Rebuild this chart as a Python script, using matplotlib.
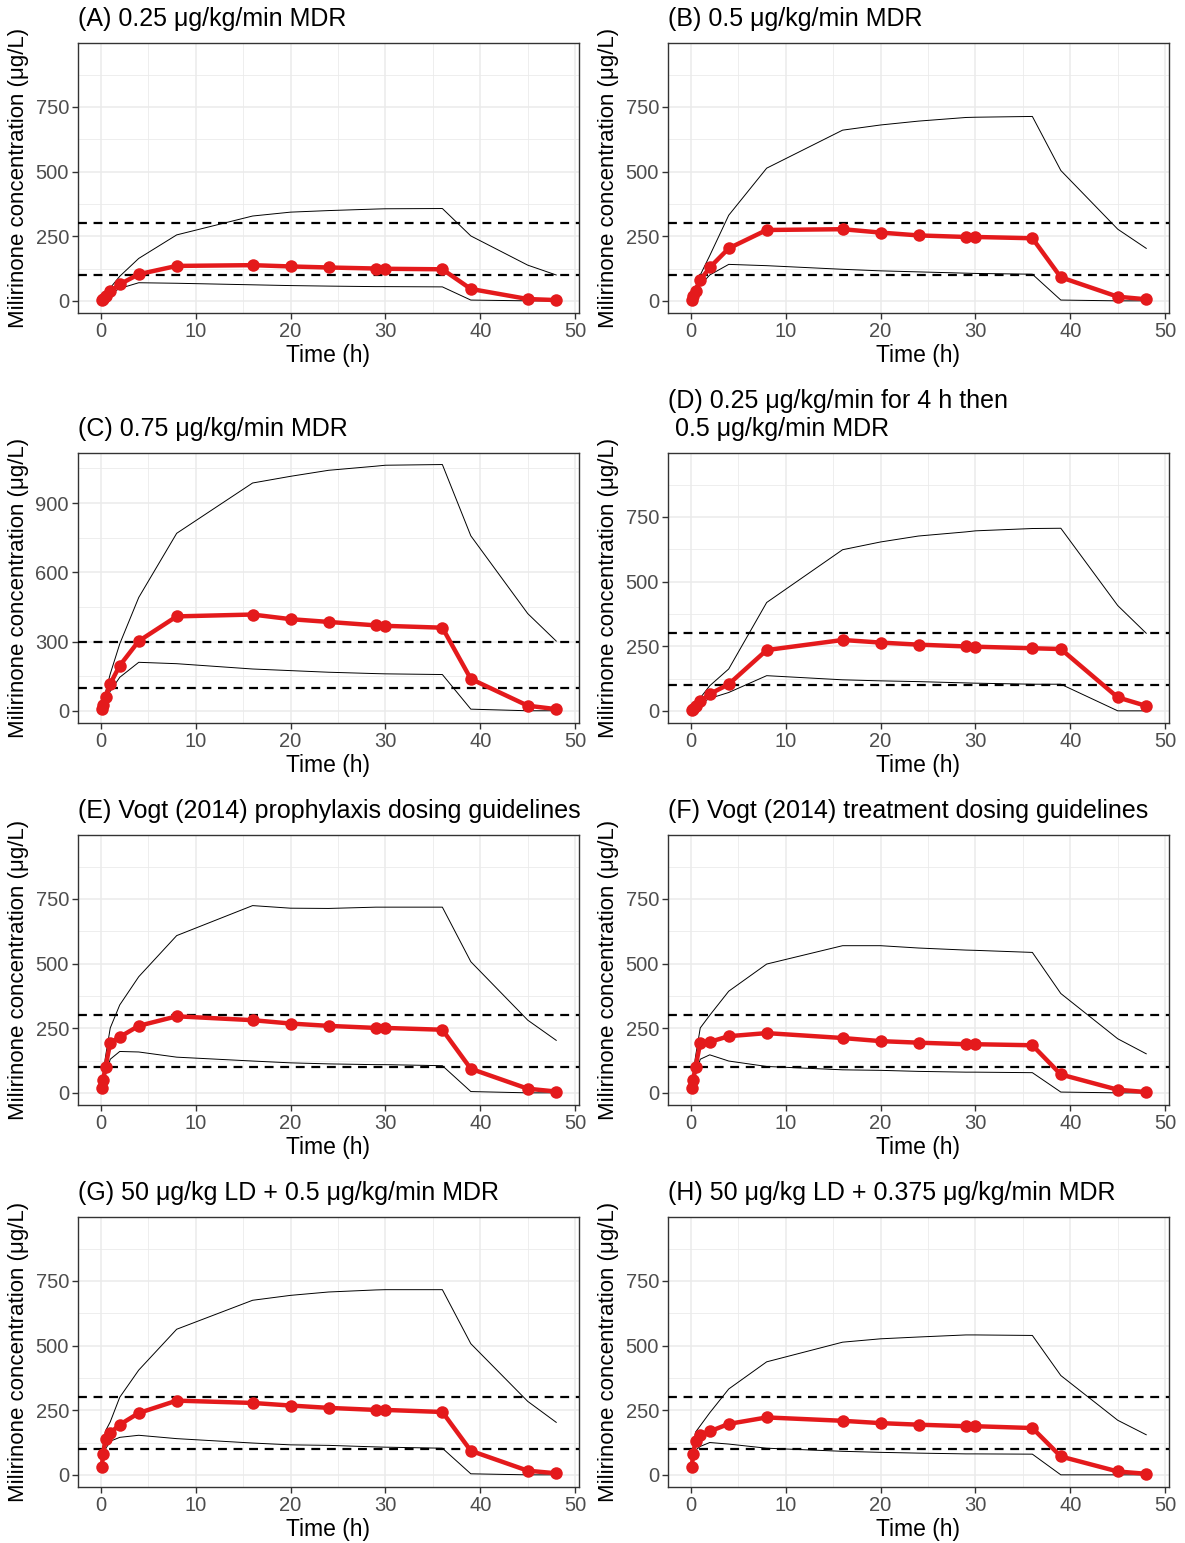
import matplotlib
matplotlib.use("Agg")
import matplotlib.pyplot as plt
from matplotlib.ticker import MultipleLocator, FixedLocator

plt.rcParams['font.family'] = ['Liberation Sans', 'DejaVu Sans']

# ---------------- data ----------------
time_h = [0.1, 0.25, 0.5, 1, 2, 4, 8, 16, 20, 24, 29, 30, 36, 39, 45, 48]

titles = [
    "(A) 0.25 \u03bcg/kg/min MDR",
    "(B) 0.5 \u03bcg/kg/min MDR",
    "(C) 0.75 \u03bcg/kg/min MDR",
    "(D) 0.25 \u03bcg/kg/min for 4 h then\n 0.5 \u03bcg/kg/min MDR",
    "(E) Vogt (2014) prophylaxis dosing guidelines",
    "(F) Vogt (2014) treatment dosing guidelines",
    "(G) 50 \u03bcg/kg LD + 0.5 \u03bcg/kg/min MDR",
    "(H) 50 \u03bcg/kg LD + 0.375 \u03bcg/kg/min MDR",
]

median_A = [2, 8, 20, 37, 64, 103, 135, 138, 133, 129, 125, 124, 122, 46, 7, 3]
lower_A = [1, 4, 12, 27, 48, 70, 68, 62, 59, 57, 55, 55, 54, 3, 0, 0]
upper_A = [3, 12, 30, 50, 95, 164, 255, 328, 343, 349, 355, 356, 357, 251, 138, 100]

median_B = [4, 18, 40, 80, 129, 203, 274, 277, 264, 253, 247, 247, 242, 91, 16, 6]
lower_B = [2, 10, 28, 60, 100, 141, 136, 122, 116, 112, 107, 106, 103, 3, 0, 0]
upper_B = [6, 25, 55, 100, 175, 331, 513, 660, 680, 695, 709, 710, 713, 504, 277, 203]

median_C = [8, 25, 60, 117, 196, 302, 409, 417, 397, 385, 370, 368, 360, 138, 22, 7]
lower_C = [3, 15, 42, 85, 145, 210, 204, 181, 174, 167, 161, 160, 157, 7, 0, 0]
upper_C = [10, 35, 80, 160, 290, 491, 769, 987, 1016, 1042, 1060, 1064, 1067, 758, 421, 302]

median_D = [2, 6, 18, 38, 65, 103, 235, 274, 264, 256, 249, 248, 242, 239, 52, 19]
lower_D = [1, 4, 12, 28, 48, 71, 136, 120, 116, 113, 108, 107, 103, 103, 0, 0]
upper_D = [3, 8, 25, 50, 97, 162, 419, 623, 653, 676, 692, 696, 705, 706, 407, 300]

median_E = [20, 50, 100, 194, 216, 259, 296, 281, 268, 259, 251, 251, 244, 93, 16, 5]
lower_E = [15, 35, 70, 130, 160, 158, 138, 123, 116, 112, 109, 109, 105, 5, 0, 0]
upper_E = [25, 70, 140, 251, 340, 449, 608, 724, 714, 713, 718, 718, 718, 507, 281, 203]

median_F = [20, 50, 100, 193, 197, 219, 231, 212, 200, 194, 188, 188, 184, 71, 12, 3]
lower_F = [15, 35, 70, 130, 147, 123, 102, 89, 87, 83, 80, 80, 78, 3, 0, 0]
upper_F = [25, 70, 140, 251, 300, 393, 498, 569, 569, 560, 552, 551, 543, 384, 209, 151]

median_G = [30, 80, 140, 162, 194, 239, 287, 278, 268, 259, 251, 251, 243, 93, 16, 6]
lower_G = [25, 60, 100, 130, 145, 153, 140, 123, 116, 114, 108, 107, 103, 4, 0, 0]
upper_G = [40, 110, 170, 205, 300, 405, 563, 675, 694, 707, 715, 716, 716, 507, 284, 203]

median_H = [30, 80, 130, 155, 168, 197, 222, 209, 200, 194, 188, 188, 181, 71, 13, 4]
lower_H = [25, 60, 95, 110, 125, 119, 103, 91, 87, 84, 81, 81, 80, 0, 0, 0]
upper_H = [40, 100, 165, 190, 240, 332, 437, 513, 526, 533, 541, 541, 539, 384, 211, 155]

medians = [median_A, median_B, median_C, median_D, median_E, median_F, median_G, median_H]
lowers = [lower_A, lower_B, lower_C, lower_D, lower_E, lower_F, lower_G, lower_H]
uppers = [upper_A, upper_B, upper_C, upper_D, upper_E, upper_F, upper_G, upper_H]

target_levels = [100, 300]

# ---------------- layout ----------------
W, H = 1185, 1543
fig = plt.figure(figsize=(W / 100, H / 100), dpi=100)
fig.patch.set_facecolor("white")

col_lr = [(78, 579), (668, 1169)]
row_tb = [(43, 313), (453, 723), (835, 1105), (1217, 1487)]

RED = "#E41A1C"
GRID = "#EBEBEB"
AX = "#333333"
TICKLAB = "#4D4D4D"

for i in range(8):
    r, c = divmod(i, 2)
    l, rr = col_lr[c]
    t, b = row_tb[r]
    ax = fig.add_axes([l / W, 1 - b / H, (rr - l) / W, (b - t) / H])
    ax.set_facecolor("white")

    if i == 2:
        ax.set_ylim(-53, 1117)
        ax.yaxis.set_major_locator(FixedLocator([0, 300, 600, 900]))
        ax.yaxis.set_minor_locator(FixedLocator([150, 450, 750, 1050]))
    else:
        ax.set_ylim(-47, 997)
        ax.yaxis.set_major_locator(FixedLocator([0, 250, 500, 750]))
        ax.yaxis.set_minor_locator(FixedLocator([125, 375, 625, 875]))
    ax.set_xlim(-2.4, 50.4)
    ax.xaxis.set_major_locator(MultipleLocator(10))
    ax.xaxis.set_minor_locator(FixedLocator([5, 15, 25, 35, 45]))

    ax.grid(which="major", color=GRID, linewidth=1.1, zorder=0)
    ax.grid(which="minor", color=GRID, linewidth=0.6, zorder=0)
    ax.set_axisbelow(True)

    for s in ax.spines.values():
        s.set_color(AX)
        s.set_linewidth(1.0)
    ax.tick_params(which="major", length=4, width=1.0, color=AX,
                   labelsize=14.5, labelcolor=TICKLAB, pad=2.5)
    ax.tick_params(which="minor", length=0)

    ax.plot(time_h, uppers[i], color="black", linewidth=0.7, zorder=3)
    ax.plot(time_h, lowers[i], color="black", linewidth=0.7, zorder=3)
    for lv in target_levels:
        ax.axhline(lv, color="black", linewidth=1.6, linestyle=(0, (4, 3)), zorder=4)
    ax.plot(time_h, medians[i], color=RED, linewidth=3.2, marker="o",
            markersize=9, markeredgewidth=0, zorder=5)

    ax.set_title(titles[i], loc="left", fontsize=18, pad=12, color="black",
                 linespacing=1.25)
    ax.set_xlabel("Time (h)", fontsize=16.5, labelpad=2)
    ax.set_ylabel("Milirinone concentration (\u03bcg/L)", fontsize=16, labelpad=5)

fig.savefig("out.png", dpi=100, facecolor="white")
